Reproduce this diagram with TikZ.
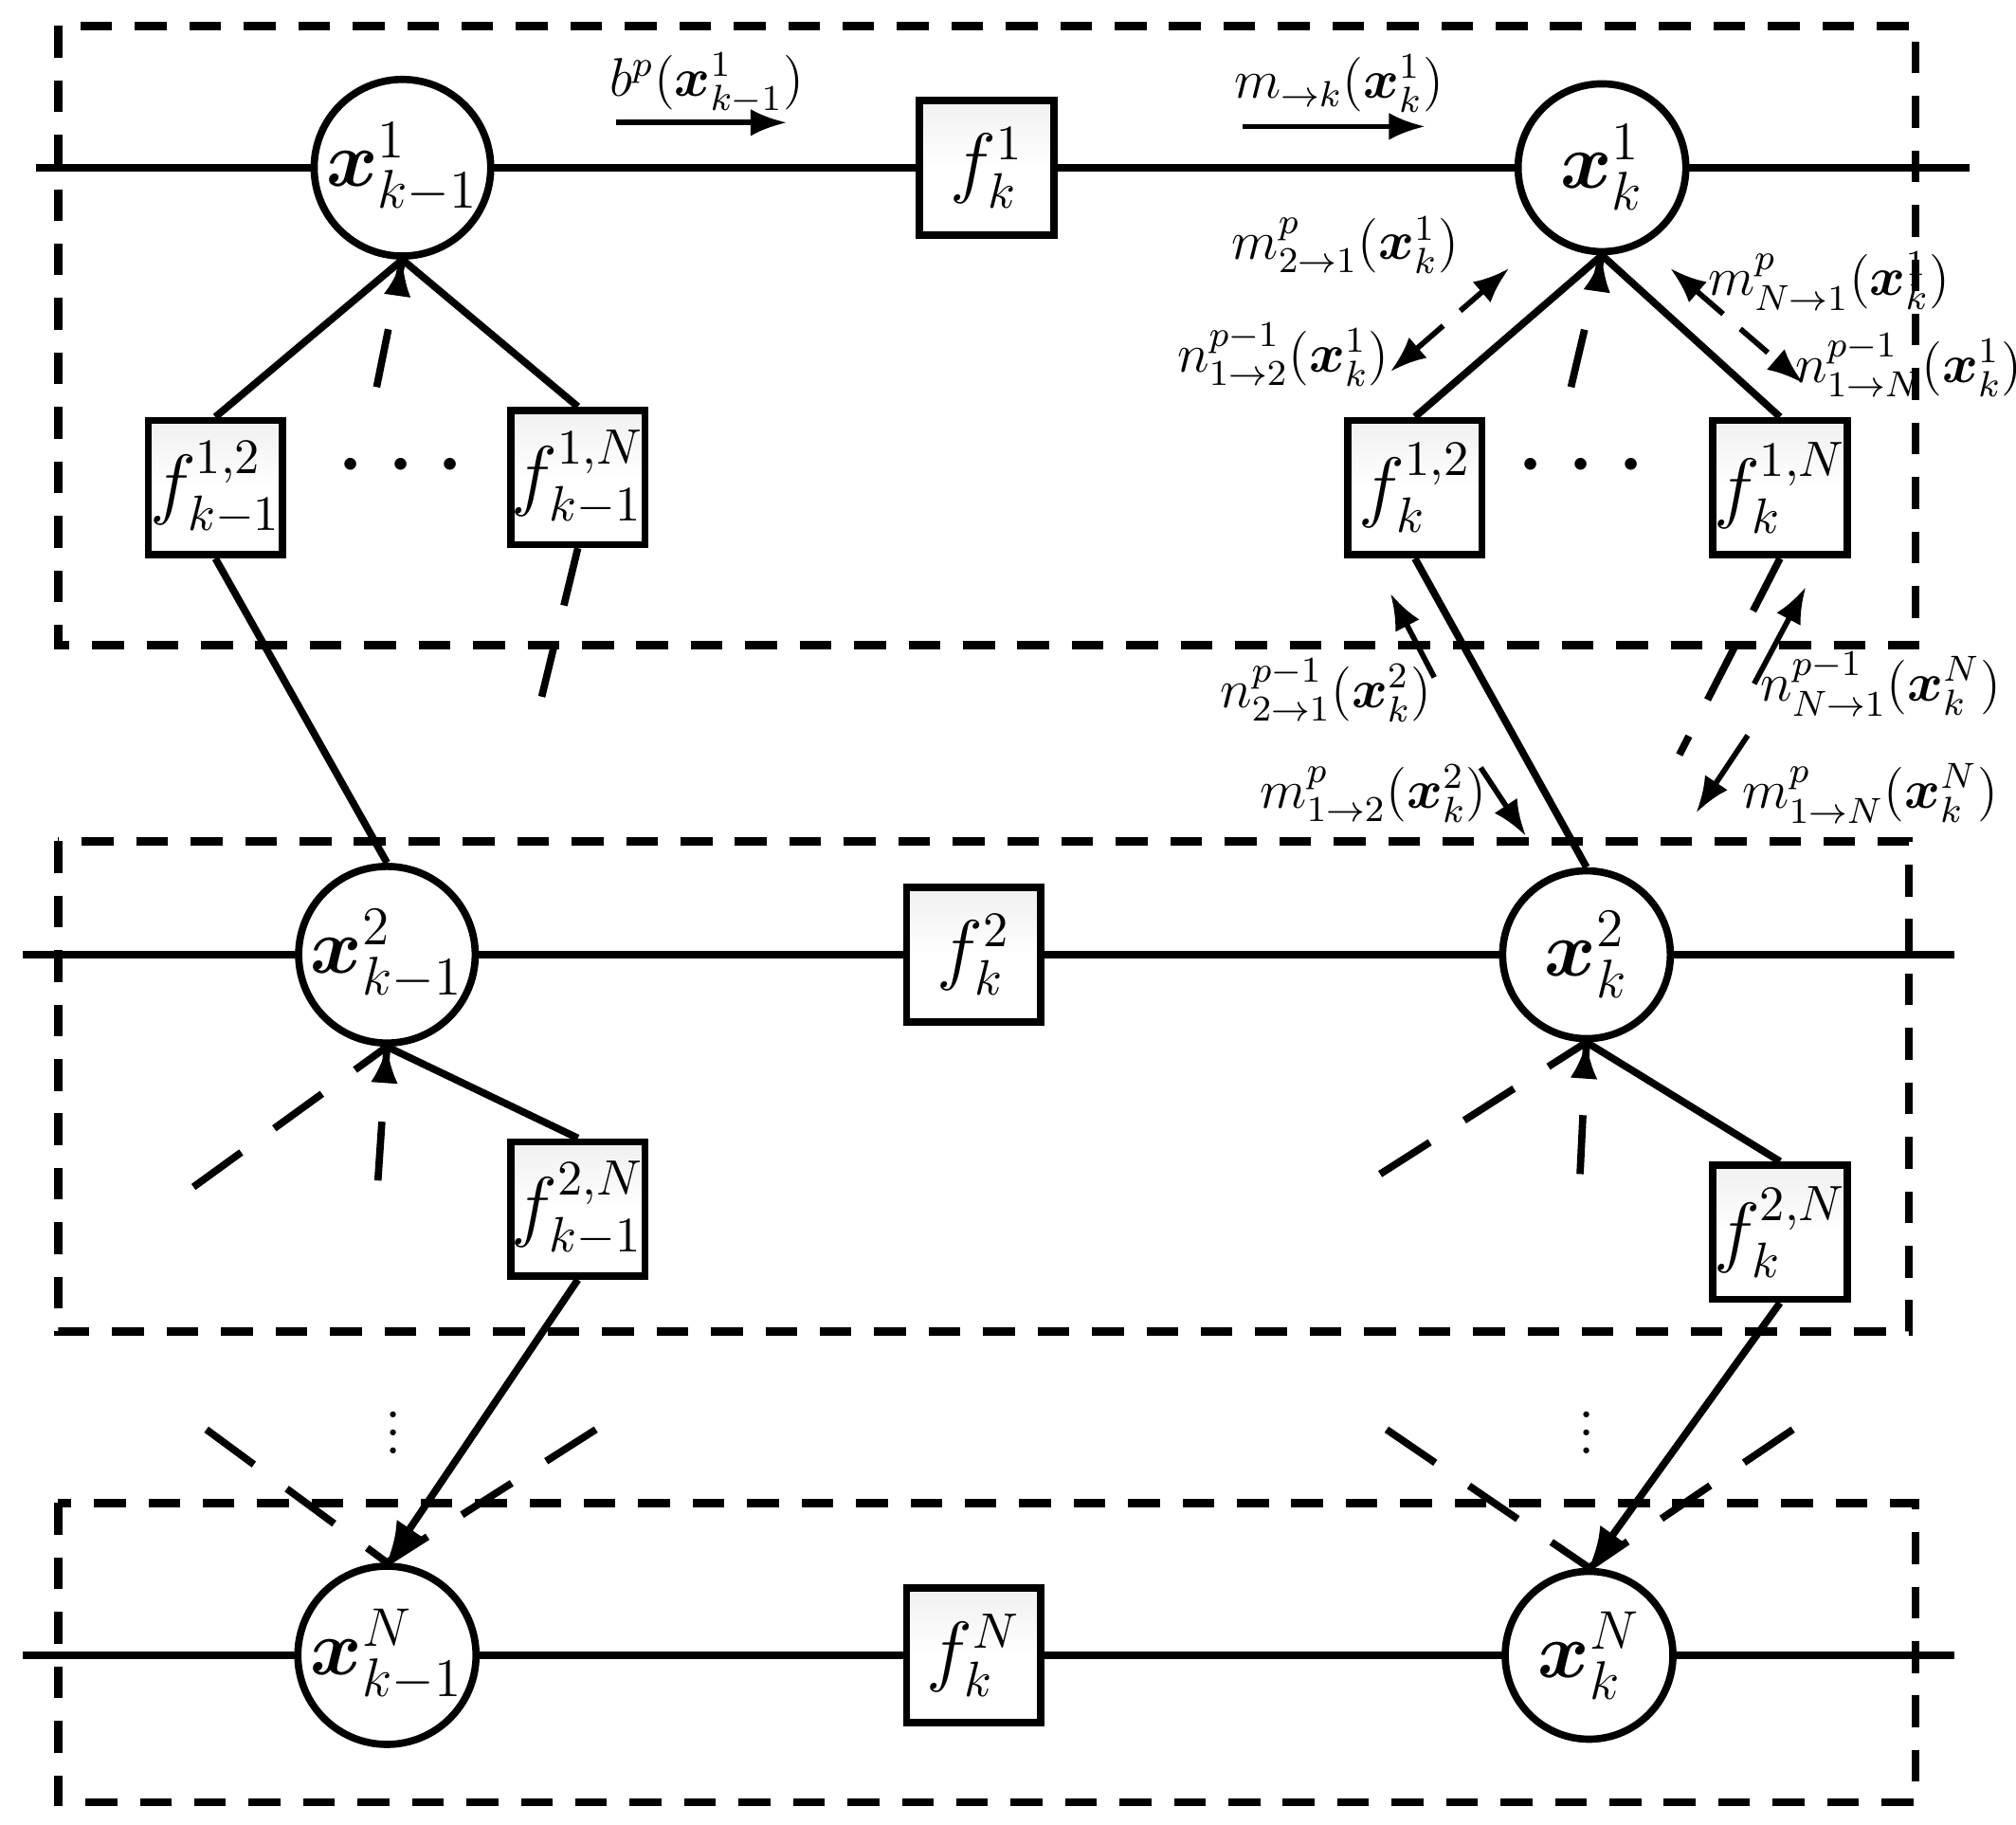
\documentclass[tikz,border=0pt]{standalone}
\usepackage{amsmath,bm}
\usetikzlibrary{arrows.meta,calc}
\begin{document}
\begin{tikzpicture}[x=0.01cm,y=-0.01cm,
  ln/.style={line width=1.6pt},
  dsh/.style={line width=1.6pt,dash pattern=on 13pt off 9pt},
  box/.style={line width=1.8pt,dash pattern=on 7pt off 5pt},
  arr/.style={line width=1.2pt,-{Latex[length=8pt,width=6pt]}},
  darr/.style={line width=1.2pt,dash pattern=on 8pt off 5pt,{Latex[length=8pt,width=6pt]}-{Latex[length=8pt,width=6pt]}},
  var/.style={circle,draw,line width=1.6pt,minimum size=1.3cm,inner sep=0pt,fill=white,font=\fontsize{18}{20}\selectfont},
  fac/.style={rectangle,draw,line width=1.6pt,minimum size=1.04cm,inner sep=0pt,top color=gray!12,bottom color=white,middle color=white,font=\fontsize{16}{18}\selectfont},
  lab/.style={font=\fontsize{12}{14}\selectfont,inner sep=1pt}]
\useasboundingbox (0,0) rectangle (1563,1414);
% boxes
\draw[box] (45,20) rectangle (1485,500);
\draw[box] (45,652) rectangle (1480,1032);
\draw[box] (45,1165) rectangle (1485,1397);
% row coordinates
\coordinate (l1) at (28,130); \coordinate (r1) at (1527,130);
\coordinate (l2) at (18,740); \coordinate (r2) at (1515,740);
\coordinate (l3) at (18,1283); \coordinate (r3) at (1515,1283);
\draw[ln] (l1)--(r1); \draw[ln] (l2)--(r2); \draw[ln] (l3)--(r3);
% variable nodes
\node[var] (a1) at (312,130) {$\bm{x}^1_{k-1}$};
\node[var] (b1) at (1242,130) {$\bm{x}^1_{k}$};
\node[var] (a2) at (300,740) {$\bm{x}^2_{k-1}$};
\node[var] (b2) at (1230,740) {$\bm{x}^2_{k}$};
\node[var] (a3) at (300,1283) {$\bm{x}^N_{k-1}$};
\node[var] (b3) at (1232,1283) {$\bm{x}^N_{k}$};
% factor nodes
\node[fac] (f1) at (765,130) {$f^1_k$};
\node[fac] (f2) at (755,740) {$f^2_k$};
\node[fac] (f3) at (755,1283) {$f^N_k$};
\node[fac] (a12) at (167,378) {$f^{1,2}_{k-1}$};
\node[fac] (a1N) at (448,370) {$f^{1,N}_{k-1}$};
\node[fac] (b12) at (1097,378) {$f^{1,2}_{k}$};
\node[fac] (b1N) at (1380,378) {$f^{1,N}_{k}$};
\node[fac] (a2N) at (448,937) {$f^{2,N}_{k-1}$};
\node[fac] (b2N) at (1380,955) {$f^{2,N}_{k}$};
% dots
\node[font=\fontsize{26}{26}\selectfont] at (318,362) {$\cdots$};
\node[font=\fontsize{26}{26}\selectfont] at (1233,362) {$\cdots$};
\node[font=\fontsize{16}{16}\selectfont] at (305,1100) {$\vdots$};
\node[font=\fontsize{16}{16}\selectfont] at (1230,1100) {$\vdots$};
% row-1 left
\draw[ln] (a1.south)--(a12.north);
\draw[ln] (a1.south)--(a1N.north);
\coordinate (a1d) at (292,300);
\draw[dsh] (a1d)--(a1.south);
\draw[arr] ($(a1.south)+(-2,14)$)--(a1.south);
\draw[ln] (a12.south)--(a2.north);
\coordinate (a1Nd) at (420,540);
\draw[dsh] (a1N.south)--(a1Nd);
% row-1 right
\draw[ln] (b1.south)--(b12.north);
\draw[ln] (b1.south)--(b1N.north);
\coordinate (b1d) at (1218,300);
\draw[dsh] (b1d)--(b1.south);
\draw[arr] ($(b1.south)+(-2,14)$)--(b1.south);
\draw[ln] (b12.south)--(b2.north);
\coordinate (b1Nd) at (1302,585);
\draw[dsh] (b1N.south)--(b1Nd);
% row-2 left
\draw[ln] (a2.south)--(a2N.north);
\coordinate (a2d1) at (150,920); \coordinate (a2d2) at (293,915);
\draw[dsh] (a2d1)--(a2.south);
\draw[dsh] (a2d2)--(a2.south);
\draw[arr] ($(a2.south)+(-1,14)$)--(a2.south);
\draw[ln,-{Latex[length=9pt,width=7pt]}] (a2N.south)--(a3.north);
\coordinate (a3d1) at (160,1108); \coordinate (a3d2) at (462,1108);
\draw[dsh] (a3d1)--(a3.north); \draw[dsh] (a3d2)--(a3.north);
% row-2 right
\draw[ln] (b2.south)--(b2N.north);
\coordinate (b2d1) at (1070,910); \coordinate (b2d2) at (1225,910);
\draw[dsh] (b2d1)--(b2.south);
\draw[dsh] (b2d2)--(b2.south);
\draw[arr] ($(b2.south)+(-1,14)$)--(b2.south);
\draw[ln,-{Latex[length=9pt,width=7pt]}] (b2N.south)--(b3.north);
\coordinate (b3d1) at (1075,1108); \coordinate (b3d2) at (1390,1108);
\draw[dsh] (b3d1)--(b3.north); \draw[dsh] (b3d2)--(b3.north);
% message arrows
\coordinate (m1s) at (478,95); \coordinate (m1e) at (610,95);
\draw[arr] (m1s)--(m1e);
\node[lab] (t1) at (548,65) {$b^p(\bm{x}^1_{k-1})$};
\coordinate (m2s) at (963,98); \coordinate (m2e) at (1105,98);
\draw[arr] (m2s)--(m2e);
\node[lab] (t2) at (1038,65) {$m_{\to k}(\bm{x}^1_{k})$};
\coordinate (m3a) at (1078,288); \coordinate (m3b) at (1170,208);
\draw[darr] (m3a)--(m3b);
\node[lab] at (1043,190) {$m^p_{2\to1}(\bm{x}^1_{k})$};
\node[lab] at (995,275) {$n^{p-1}_{1\to2}(\bm{x}^1_{k})$};
\coordinate (m4a) at (1295,208); \coordinate (m4b) at (1398,297);
\draw[darr] (m4a)--(m4b);
\node[lab] at (1418,218) {$m^p_{N\to1}(\bm{x}^1_{k})$};
\node[lab] at (1480,283) {$n^{p-1}_{1\to N}(\bm{x}^1_{k})$};
\coordinate (m5a) at (1112,525); \coordinate (m5b) at (1078,460);
\draw[arr] (m5a)--(m5b);
\node[lab] at (1028,535) {$n^{p-1}_{2\to1}(\bm{x}^2_{k})$};
\coordinate (m6a) at (1148,595); \coordinate (m6b) at (1183,648);
\draw[arr] (m6a)--(m6b);
\node[lab] at (1065,615) {$m^p_{1\to2}(\bm{x}^2_{k})$};
\coordinate (m7a) at (1360,530); \coordinate (m7b) at (1400,455);
\draw[arr] (m7a)--(m7b);
\node[lab] at (1458,530) {$n^{p-1}_{N\to1}(\bm{x}^N_{k})$};
\coordinate (m8a) at (1355,570); \coordinate (m8b) at (1315,630);
\draw[arr] (m8a)--(m8b);
\node[lab] at (1450,615) {$m^p_{1\to N}(\bm{x}^N_{k})$};
\end{tikzpicture}
\end{document}
